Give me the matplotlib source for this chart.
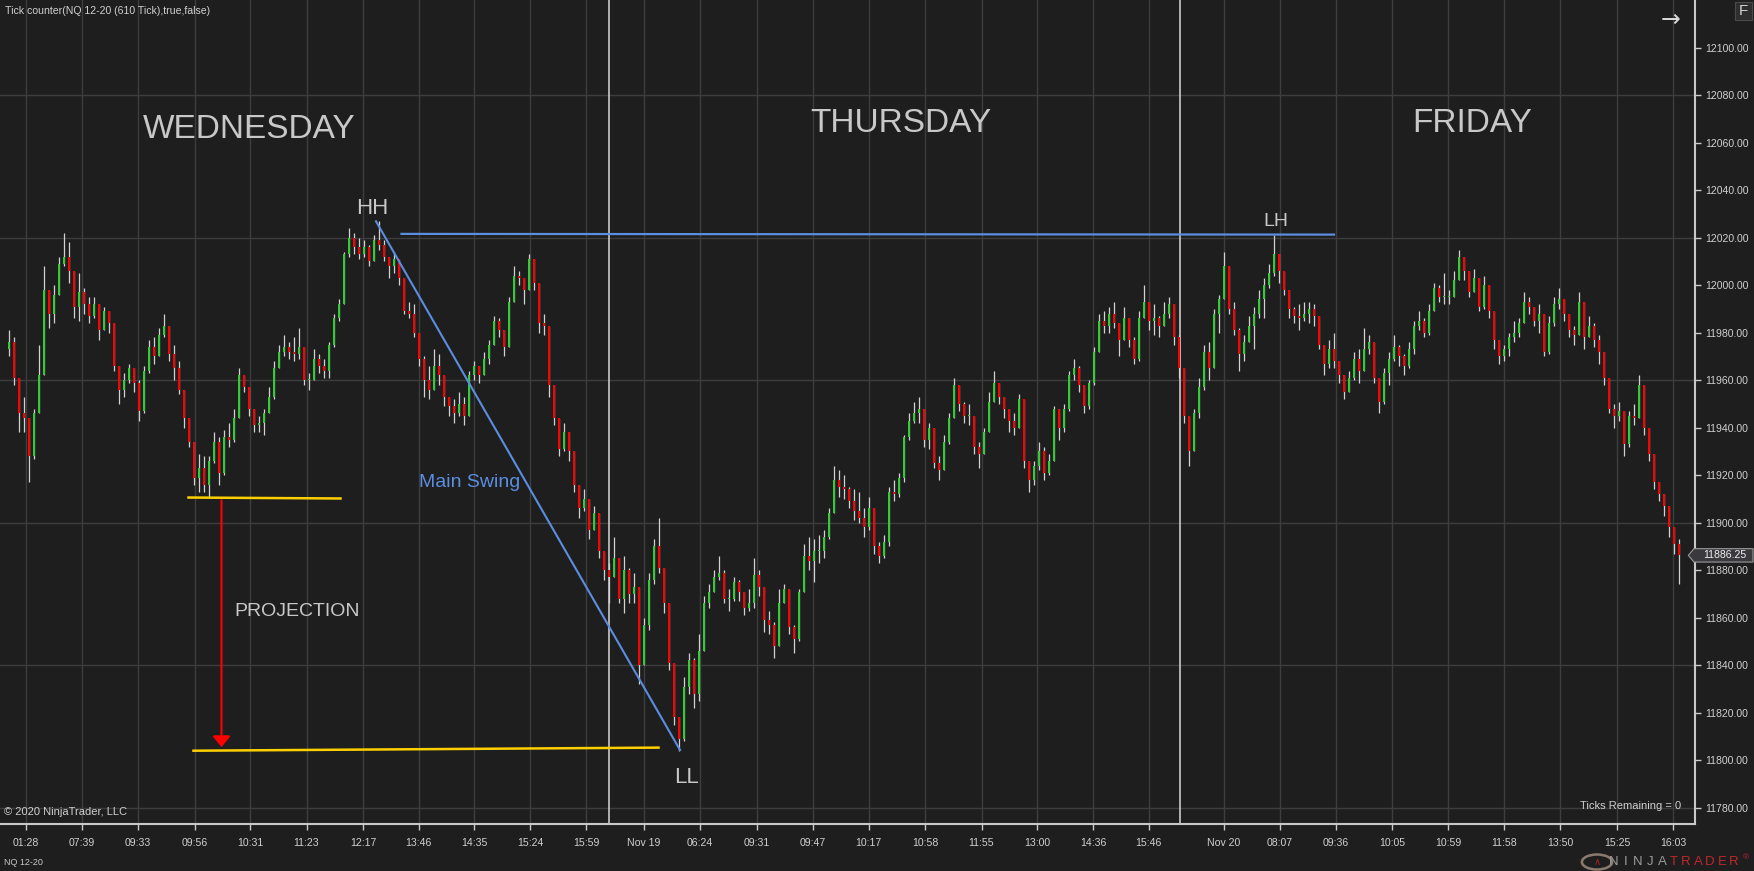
import numpy as np
import matplotlib
matplotlib.use('Agg')
import matplotlib.pyplot as plt
from matplotlib.transforms import blended_transform_factory
from matplotlib.patches import Rectangle, Polygon, Circle

plt.rcParams['font.family'] = ['Liberation Sans', 'DejaVu Sans']

# ---------------- data (610-tick bars, NQ 12-20) ----------------
FIRST_OPEN = 11973.0
CLOSE = [
    11976, 11961, 11946, 11944, 11928, 11946, 11962, 11998, 11988, 11996,
    12009, 12012, 12006, 11991, 11997, 11992, 11987, 11992, 11981, 11989,
    11984, 11966, 11956, 11960, 11965, 11959, 11947, 11964, 11974, 11970,
    11979, 11983, 11971, 11965, 11956, 11944, 11934, 11919, 11923, 11916,
    11926, 11934, 11921, 11936, 11935, 11944, 11962, 11957, 11948, 11941,
    11942, 11946, 11953, 11965, 11972, 11974, 11972, 11971, 11974, 11960,
    11960, 11969, 11966, 11964, 11975, 11986, 11992, 12013, 12020, 12016,
    12013, 12016, 12010, 12019, 12017, 12012, 12008, 12011, 12003, 11989,
    11988, 11980, 11969,
    11960, 11956, 11966, 11962, 11953, 11949, 11946,
    11950, 11945, 11962, 11966, 11962, 11969, 11975, 11985, 11981, 11974,
    11993, 12004, 12003, 11998, 12011, 12001, 11984, 11983, 11958, 11944,
    11931, 11938, 11930, 11916, 11906, 11910, 11897, 11904, 11888, 11880,
    11877, 11885, 11868, 11880, 11870, 11873, 11840, 11857, 11876, 11890,
    11881, 11866, 11841, 11818, 11809, 11831, 11842, 11828, 11846, 11866,
    11871, 11877, 11879, 11868, 11868, 11875, 11871, 11864, 11866, 11878,
    11873, 11859, 11857, 11848, 11866, 11872, 11856, 11851, 11871, 11886,
    11884, 11888, 11888, 11894, 11904, 11918, 11915,
    11914, 11909, 11905,
    11902, 11898, 11906, 11890, 11886, 11892, 11913, 11912, 11919, 11936,
    11943, 11946, 11948, 11935, 11940, 11925, 11922, 11934, 11944, 11958,
    11950, 11945, 11945, 11932, 11929, 11938, 11951, 11959, 11953, 11948,
    11943, 11940, 11952, 11926, 11918, 11924, 11930, 11921, 11926, 11948,
    11940, 11948, 11962, 11965, 11958, 11949, 11959, 11972, 11985, 11983,
    11988, 11984, 11977, 11986, 11977, 11969, 11986, 11993, 11985, 11986,
    11983, 11988, 11992, 11978, 11965, 11945, 11930, 11946, 11957, 11972,
    11965, 11988, 11994, 12008, 11990, 11981, 11971, 11976, 11983, 11988,
    11994,
    12000, 12005, 12013, 12006, 11998, 11990, 11987, 11986, 11988,
    11990, 11987, 11975, 11967, 11973, 11968, 11962, 11955, 11961, 11969,
    11964, 11973, 11976, 11961, 11951, 11963, 11969, 11974, 11970, 11966,
    11973, 11983, 11985, 11980, 11989, 11999, 11995, 11995, 11995, 12002,
    12012, 12006, 11997, 12003, 11991, 12000, 11989, 11977, 11970, 11973,
    11978, 11980, 11984, 11993, 11991, 11985, 11988, 11972, 11984, 11992,
    11994, 11988, 11981, 11979, 11993, 11978, 11983, 11977, 11972, 11961,
    11948, 11945, 11947, 11933, 11945, 11944, 11958, 11940, 11929, 11917,
    11912, 11907, 11898, 11891, 11886.25,
]
HIGH = [
    11981, 11978, 11952, 11953, 11940, 11948, 11975, 12008, 11998, 12000,
    12012, 12022, 12018, 12006, 12005, 11999, 11995, 11995, 11990, 11991,
    11989, 11979, 11963, 11963, 11967, 11964, 11960, 11966, 11977, 11978,
    11982, 11988, 11982, 11975, 11968, 11954, 11941, 11931, 11929, 11928,
    11928, 11938, 11936, 11939, 11942, 11948, 11965, 11962, 11957, 11947,
    11945, 11948, 11957, 11968, 11975, 11979, 11976, 11978, 11982, 11972,
    11963, 11973, 11971, 11969, 11976, 11988, 11994, 12014, 12024, 12022,
    12020, 12019, 12017, 12021, 12027, 12019, 12012, 12014, 12011, 12003,
    11993, 11992, 11976,
    11970, 11966, 11973, 11971, 11958, 11953, 11952,
    11955, 11953, 11964, 11968, 11966, 11972, 11977, 11987, 11986, 11980,
    11995, 12008, 12006, 12003, 12013, 12010, 11997, 11988, 11970, 11948,
    11942, 11942, 11938, 11926, 11911, 11914, 11909, 11907, 11903, 11887,
    11883, 11894, 11883, 11886, 11881, 11879, 11870, 11860, 11879, 11893,
    11902, 11879, 11865, 11838, 11818, 11835, 11845, 11843, 11853, 11869,
    11874, 11880, 11886, 11880, 11872, 11877, 11876, 11870, 11872, 11885,
    11880, 11873, 11863, 11858, 11872, 11874, 11870, 11857, 11872, 11891,
    11894, 11893, 11895, 11897, 11906, 11924, 11922,
    11920, 11915, 11914,
    11913, 11906, 11911, 11904, 11892, 11895, 11915, 11918, 11921, 11937,
    11946, 11951, 11953, 11944, 11942, 11935, 11928, 11937, 11946, 11961,
    11957, 11951, 11950, 11942, 11934, 11940, 11955, 11964, 11959, 11953,
    11947, 11946, 11954, 11944, 11922, 11926, 11934, 11932, 11929, 11949,
    11947, 11950, 11964, 11969, 11966, 11956, 11960, 11974, 11988, 11989,
    11991, 11993, 11980, 11991, 11985, 11978, 11989, 12000, 11993, 11992,
    11987, 11993, 11995, 11988, 11979, 11964, 11945, 11948, 11961, 11975,
    11976, 11990, 11996, 12014, 12005, 11993, 11982, 11979, 11987, 11991,
    11998,
    12003, 12009, 12021, 12012, 12006, 11996, 11991, 11992, 11993,
    11993, 11992, 11984, 11975, 11977, 11980, 11968, 11961, 11964, 11972,
    11973, 11982, 11979, 11973, 11957, 11965, 11972, 11979, 11975, 11971,
    11976, 11985, 11989, 11986, 11992, 12001, 12000, 12005, 11998, 12006,
    12015, 12012, 12005, 12007, 12000, 12004, 11998, 11988, 11976, 11975,
    11980, 11985, 11986, 11997, 11995, 11991, 11992, 11988, 11987, 11995,
    11999, 11994, 11988, 11983, 11997, 11991, 11987, 11984, 11979, 11972,
    11961, 11950, 11951, 11946, 11947, 11950, 11962, 11957, 11940, 11926,
    11917, 11912, 11905, 11898, 11893,
]
LOW = [
    11970, 11958, 11938, 11938, 11917, 11927, 11955, 11975, 11982, 11984,
    11996, 12008, 12001, 11986, 11985, 11988, 11984, 11986, 11977, 11981,
    11980, 11964, 11950, 11953, 11959, 11955, 11943, 11946, 11963, 11967,
    11970, 11978, 11968, 11960, 11954, 11940, 11932, 11916, 11913, 11913,
    11911, 11925, 11916, 11920, 11932, 11934, 11944, 11955, 11945, 11938,
    11938, 11937, 11946, 11952, 11966, 11970, 11969, 11968, 11969, 11958,
    11956, 11962, 11963, 11961, 11961, 11974, 11985, 11995, 12012, 12013,
    12011, 12012, 12008, 12010, 12015, 12010, 12003, 12005, 12000, 11988,
    11986, 11978, 11966,
    11953, 11952, 11960, 11958, 11949, 11945, 11942,
    11945, 11941, 11946, 11960, 11959, 11962, 11967, 11975, 11978, 11970,
    11974, 11999, 12000, 11992, 11998, 11998, 11980, 11979, 11953, 11941,
    11928, 11930, 11926, 11913, 11902, 11905, 11893, 11897, 11885, 11876,
    11866, 11880, 11866, 11862, 11866, 11866, 11832, 11844, 11855, 11874,
    11879, 11862, 11838, 11815, 11804, 11808, 11828, 11822, 11825, 11850,
    11864, 11871, 11876, 11866, 11863, 11867, 11867, 11861, 11863, 11864,
    11869, 11854, 11853, 11843, 11848, 11866, 11853, 11845, 11850, 11871,
    11880, 11875, 11883, 11885, 11893, 11904, 11911,
    11910, 11906, 11901,
    11900, 11894, 11897, 11887, 11883, 11885, 11890, 11909, 11911, 11917,
    11935, 11942, 11942, 11932, 11931, 11923, 11918, 11922, 11933, 11946,
    11947, 11942, 11941, 11929, 11923, 11929, 11938, 11951, 11950, 11944,
    11938, 11937, 11943, 11923, 11913, 11916, 11922, 11918, 11920, 11926,
    11935, 11938, 11947, 11960, 11955, 11946, 11948, 11958, 11972, 11980,
    11980, 11982, 11970, 11978, 11974, 11967, 11968, 11990, 11981, 11979,
    11978, 11983, 11986, 11975, 11961, 11942, 11924, 11930, 11944, 11956,
    11960, 11967, 11980, 11996, 11988, 11979, 11964, 11968, 11977, 11973,
    11986,
    11986, 11999, 12004, 12001, 11996, 11986, 11984, 11981, 11985,
    11984, 11983, 11973, 11962, 11965, 11965, 11959, 11952, 11955, 11960,
    11959, 11968, 11971, 11959, 11946, 11950, 11958, 11968, 11966, 11962,
    11965, 11971, 11981, 11978, 11979, 11990, 11993, 11992, 11992, 11995,
    12002, 12002, 11995, 11998, 11989, 11990, 11986, 11973, 11967, 11968,
    11970, 11976, 11978, 11984, 11988, 11983, 11980, 11970, 11971, 11983,
    11990, 11985, 11978, 11975, 11979, 11973, 11978, 11974, 11967, 11958,
    11946, 11940, 11943, 11928, 11932, 11941, 11944, 11937, 11926, 11914,
    11909, 11903, 11894, 11887, 11874,
]
LAST_PRICE = 11886.25

TICK_POS = [3.4, 14.6, 25.8, 37.1, 48.2, 59.5, 70.8, 81.9, 93.0, 104.2,
            115.4, 126.9, 138.2, 149.5, 160.8, 171.9, 183.2, 194.5, 205.6, 216.8,
            227.9, 243.0, 254.2, 265.4, 276.6, 287.8, 299.0, 310.2, 321.6, 332.8]
TICK_LABELS = ['01:28', '07:39', '09:33', '09:56', '10:31', '11:23', '12:17', '13:46',
               '14:35', '15:24', '15:59', 'Nov 19', '06:24', '09:31', '09:47', '10:17',
               '10:58', '11:55', '13:00', '14:36', '15:46', 'Nov 20', '08:07', '09:36',
               '10:05', '10:59', '11:58', '13:50', '15:25', '16:03']
SESSION_BREAKS = [119.9, 234.1]

PRICE_TICKS = np.arange(11780, 12101, 20)
GRID_STEP = 60

DAY_LABELS = ['WEDNESDAY', 'THURSDAY', 'FRIDAY']
DAY_BAR = [48.1, 178.3, 292.6]
DAY_PRICE = [12065.4, 12068.0, 12068.0]

# drawing objects (bar index, price)
HH = (73.4, 12026.9)
LL = (134.2, 11804.3)
LH_LINE = ((78.5, 12021.6), (265.0, 12021.3))
PROJ_TOP = ((35.9, 11910.6), (66.3, 11910.2))
PROJ_BOT = ((36.9, 11804.0), (129.9, 11805.3))
ARROW = (42.5, 11909.5, 11805.5)
LBL_HH = (72.6, 12032.1)
LBL_LH = (253.3, 12026.7)
LBL_LL = (135.6, 11792.9)
LBL_SWING = (82.0, 11917.0)
LBL_PROJ = (45.0, 11862.7)

# ---------------- style ----------------
BG = '#1e1e1e'
GRID = '#3d3d3d'
TXT = '#c8c8c8'
UPC = '#32cd32'
DNC = '#ff0000'
WICK = '#d2d2d2'
BLUE = '#5b8de0'
GOLD = '#ffd000'

W, H = 1754, 871
fig = plt.figure(figsize=(W / 100, H / 100), dpi=100, facecolor=BG)
ax = fig.add_axes([0, 47 / H, 1695 / W, 824 / H], facecolor=BG)

close = np.array(CLOSE, dtype=float)
high = np.array(HIGH, dtype=float)
low = np.array(LOW, dtype=float)
n = min(len(close), len(high), len(low))
close, high, low = close[:n], high[:n], low[:n]
opens = np.concatenate([[FIRST_OPEN], close[:-1]])
idx = np.arange(n)
b_lo = np.minimum(opens, close)
b_hi = np.maximum(opens, close)
hi = np.maximum(high, b_hi)
lo = np.minimum(low, b_lo)
cols = np.where(close >= opens, UPC, DNC)

ax.set_xlim(-1.8, 337.2)
ax.set_ylim(11773.14, 12120.08)

# grid
ax.set_axisbelow(True)
ax.set_xticks(TICK_POS)
ax.set_xticklabels(TICK_LABELS)
ax.grid(axis='x', color=GRID, lw=1.0, zorder=0)
for v in PRICE_TICKS:
    if (v - PRICE_TICKS[0]) % GRID_STEP == 0:
        ax.axhline(v, color=GRID, lw=1.0, zorder=0)

for b in SESSION_BREAKS:
    ax.axvline(b, color='#d8d8d8', lw=1.1, zorder=1)

# bars
ax.vlines(idx, lo, hi, color=WICK, lw=0.9, zorder=3)
ax.bar(idx, np.maximum(b_hi - b_lo, 0.4), bottom=b_lo, width=0.55,
       color=cols, linewidth=0, zorder=4)

# axes styling
for s in ['top', 'left']:
    ax.spines[s].set_visible(False)
for s in ['bottom', 'right']:
    ax.spines[s].set_color('#c8c8c8')
    ax.spines[s].set_linewidth(1.5)
ax.yaxis.tick_right()
ax.set_yticks(PRICE_TICKS)
ax.set_yticklabels(['%.2f' % v for v in PRICE_TICKS])
ax.tick_params(axis='y', colors='#c8c8c8', labelcolor='#d0d0d0', labelsize=7.6,
               length=4, width=1, pad=3)
ax.tick_params(axis='x', colors='#c8c8c8', labelcolor='#d0d0d0', labelsize=7.6,
               length=4, width=1, pad=6)

# drawings
ax.plot([HH[0], LL[0]], [HH[1], LL[1]], color=BLUE, lw=1.5, zorder=6)
ax.plot([LH_LINE[0][0], LH_LINE[1][0]], [LH_LINE[0][1], LH_LINE[1][1]],
        color=BLUE, lw=1.6, zorder=6)
ax.plot([PROJ_TOP[0][0], PROJ_TOP[1][0]], [PROJ_TOP[0][1], PROJ_TOP[1][1]],
        color=GOLD, lw=1.8, zorder=6)
ax.plot([PROJ_BOT[0][0], PROJ_BOT[1][0]], [PROJ_BOT[0][1], PROJ_BOT[1][1]],
        color=GOLD, lw=1.8, zorder=6)
ax.annotate('', xy=(ARROW[0], ARROW[2]), xytext=(ARROW[0], ARROW[1]),
            arrowprops=dict(arrowstyle='-|>,head_length=0.55,head_width=0.45',
                            color='#ff0000', lw=1.5, mutation_scale=12,
                            shrinkA=0, shrinkB=0), zorder=6)

for lbl, bx, pr in zip(DAY_LABELS, DAY_BAR, DAY_PRICE):
    ax.text(bx, pr, lbl, color=TXT, fontsize=24, ha='center', va='center', zorder=7)
ax.text(*LBL_HH, 'HH', color=TXT, fontsize=16, ha='center', va='center', zorder=7)
ax.text(*LBL_LL, 'LL', color=TXT, fontsize=16, ha='center', va='center', zorder=7)
ax.text(*LBL_LH, 'LH', color=TXT, fontsize=14, ha='center', va='center', zorder=7)
ax.text(*LBL_SWING, 'Main Swing', color=BLUE, fontsize=14, ha='left', va='center', zorder=7)
ax.text(*LBL_PROJ, 'PROJECTION', color=TXT, fontsize=14, ha='left', va='center', zorder=7)

# chart texts
fig.text(5 / W, 1 - 11 / H, 'Tick counter(NQ 12-20 (610 Tick),true,false)',
         color='#d0d0d0', fontsize=7.6, ha='left', va='center')
fig.text(4 / W, 1 - 812 / H, '\u00a9 2020 NinjaTrader, LLC', color='#d0d0d0',
         fontsize=8, ha='left', va='center')
fig.text(1681 / W, 1 - 806 / H, 'Ticks Remaining = 0', color='#d0d0d0',
         fontsize=8, ha='right', va='center')
fig.text(4 / W, 1 - 862 / H, 'NQ 12-20', color='#c8c8c8', fontsize=6.5,
         ha='left', va='center')

# top-right widgets
fig.text(1671 / W, 1 - 20 / H, '\u2192', color='#d8d8d8', fontsize=17,
         ha='center', va='center', family=['DejaVu Sans'])
fig.patches.append(Rectangle((1735 / W, 1 - 20 / H), 17 / W, 18 / H,
                             transform=fig.transFigure, facecolor='#2e2e2e',
                             edgecolor='#4a4a4a', lw=0.8))
fig.text(1743.5 / W, 1 - 11 / H, 'F', color='#d0d0d0', fontsize=11,
         ha='center', va='center')

# last price marker
ypix = ax.transData.transform((0, LAST_PRICE))[1]
yc = ypix / H
hh = 6.7 / H
xs = [1688.3 / W, 1694 / W, 1753 / W, 1753 / W, 1694 / W]
ys = [yc, yc + hh, yc + hh, yc - hh, yc - hh]
fig.patches.append(Polygon(list(zip(xs, ys)), closed=True, transform=fig.transFigure,
                           facecolor='#3a3a3e', edgecolor='#9a9a9a', lw=0.8, zorder=10))
fig.text(1725 / W, yc, '%.2f' % LAST_PRICE, color='#f0f0f0', fontsize=7.6,
         ha='center', va='center', zorder=11)

# NinjaTrader logo
fig.patches.append(Circle((1597 / W, 1 - 862 / H), 7.5 / H, transform=fig.transFigure,
                          facecolor='none', edgecolor='#8a7a70', lw=1.8))
fig.text(1597 / W, 1 - 862 / H, '\u2227', color='#b02020', fontsize=7,
         ha='center', va='center', family=['DejaVu Sans'])
letters = 'NINJATRADER'
for i, ch in enumerate(letters):
    c = '#9a9a9a' if i < 5 else '#c0282d'
    fig.text((1614 + i * 12.0) / W, 1 - 862 / H, ch, color=c, fontsize=9.5,
             ha='center', va='center')
fig.text(1746 / W, 1 - 858 / H, '\u00ae', color='#c0282d', fontsize=6,
         ha='center', va='center')

fig.savefig('out.png', dpi=100, facecolor=BG)
